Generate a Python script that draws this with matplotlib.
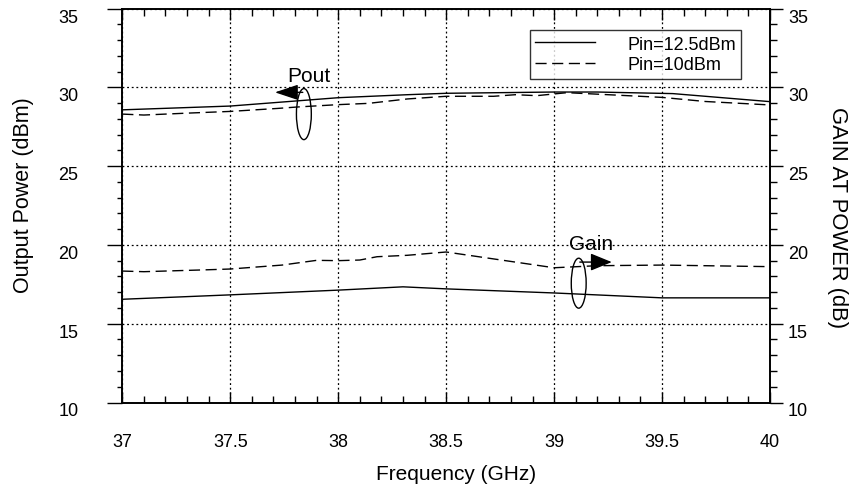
import matplotlib
matplotlib.use("Agg")
import matplotlib.pyplot as plt
from matplotlib.patches import Ellipse

# ---------------- data ----------------
pout_125_x = [37, 37.5, 38, 38.32, 38.5, 39, 39.2, 39.55, 40]
pout_125_y = [28.57, 28.81, 29.34, 29.53, 29.62, 29.70, 29.70, 29.60, 29.09]

pout_10_x = [37, 37.1, 37.3, 37.5, 37.72, 37.81, 38, 38.14, 38.32, 38.5, 38.72, 38.82,
             38.92, 39.06, 39.5, 39.7, 40]
pout_10_y = [28.30, 28.24, 28.36, 28.47, 28.66, 28.75, 28.90, 28.98, 29.26, 29.43, 29.43,
             29.53, 29.47, 29.66, 29.36, 29.10, 28.88]

gain_125_x = [37, 37.5, 38, 38.3, 38.5, 39, 39.5, 40]
gain_125_y = [16.55, 16.83, 17.13, 17.34, 17.21, 16.95, 16.64, 16.64]

gain_10_x = [37, 37.1, 37.39, 37.5, 37.74, 37.9, 38, 38.1, 38.18, 38.32, 38.5, 39, 39.2,
             39.5, 40]
gain_10_y = [18.34, 18.30, 18.42, 18.47, 18.72, 19.02, 19.00, 19.04, 19.25, 19.34, 19.55,
             18.55, 18.68, 18.72, 18.62]

x_ticks = [37, 37.5, 38, 38.5, 39, 39.5, 40]
x_tick_labels = ["37", "37.5", "38", "38.5", "39", "39.5", "40"]
y_ticks = [10, 15, 20, 25, 30, 35]
y_tick_labels = ["10", "15", "20", "25", "30", "35"]

series_labels = ["Pin=12.5dBm", "Pin=10dBm"]
x_label = "Frequency (GHz)"
y_label_left = "Output Power (dBm)"
y_label_right = "GAIN AT POWER (dB)"

# ---------------- figure ----------------
plt.rcParams['font.family'] = ['Liberation Sans', 'DejaVu Sans']

fig = plt.figure(figsize=(8.51, 4.89), dpi=100)
W, H = 851, 489
left, right, top, bottom = 122.3, 770, 9.5, 403.5
ax = fig.add_axes([left / W, 1 - bottom / H, (right - left) / W, (bottom - top) / H])

ax.set_xlim(37, 40)
ax.set_ylim(10, 35)

lw = 1.0
dash = (0, (8, 4))
l1, = ax.plot(pout_125_x, pout_125_y, color='black', lw=lw, label=series_labels[0])
l2, = ax.plot(pout_10_x, pout_10_y, color='black', lw=lw, ls=dash, label=series_labels[1])
ax.plot(gain_125_x, gain_125_y, color='black', lw=lw)
ax.plot(gain_10_x, gain_10_y, color='black', lw=lw, ls=dash)

# grid
ax.grid(True, which='major', color='black', lw=0.9, ls=(0, (1.5, 2.2)))

# ticks
ax.set_xticks(x_ticks, labels=x_tick_labels)
ax.set_xticks([37 + 0.1 * i for i in range(31)], minor=True)
ax.set_yticks(y_ticks, labels=y_tick_labels, va='top')
ax.set_yticks(list(range(10, 36)), minor=True)
ax.tick_params(axis='x', which='both', direction='in', top=True, bottom=True,
               labelsize=13, pad=22, width=1)
ax.tick_params(axis='x', which='major', length=8)
ax.tick_params(axis='x', which='minor', length=5)
ax.tick_params(axis='y', which='both', direction='out', labelsize=13, pad=21, width=1)
ax.tick_params(axis='y', which='major', length=10.5)
ax.tick_params(axis='y', which='minor', length=3.6)

ax2 = ax.twinx()
ax2.set_ylim(10, 35)
ax2.set_yticks(y_ticks, labels=y_tick_labels, va='top')
ax2.set_yticks(list(range(10, 36)), minor=True)
ax2.tick_params(axis='y', which='both', direction='out', labelsize=13, pad=4, width=1)
ax2.tick_params(axis='y', which='major', length=9)
ax2.tick_params(axis='y', which='minor', length=5)

for a in (ax, ax2):
    for s in a.spines.values():
        s.set_linewidth(1.2)

# labels
ax.set_xlabel(x_label, fontsize=15, va='center')
ax.xaxis.set_label_coords(0.516, -0.179)
ax.set_ylabel(y_label_left, fontsize=15.5, va='center')
ax.yaxis.set_label_coords(-0.152, 0.53)
ax2.set_ylabel(y_label_right, fontsize=15.8, rotation=270, va='center')
ax2.yaxis.set_label_coords(1.1045, 0.471)

# legend
leg = ax.legend(handles=[l1, l2], loc='upper left', bbox_to_anchor=(0.629, 0.945),
                fontsize=13, frameon=True, fancybox=False, handlelength=3.3,
                handletextpad=1.8, borderpad=0.3, labelspacing=0.2, borderaxespad=0)
leg.get_frame().set_edgecolor('black')
leg.get_frame().set_linewidth(1.0)

# annotations
ax.add_patch(Ellipse((37.841, 28.3), 0.069, 3.24, fill=False, ec='black', lw=1))
ax.add_patch(Ellipse((39.114, 17.57), 0.069, 3.17, fill=False, ec='black', lw=1))
ax.annotate('', xy=(37.707, 29.68), xytext=(37.836, 29.68),
            arrowprops=dict(arrowstyle='-|>,head_length=1.2,head_width=0.4',
                            mutation_scale=12, color='black', lw=1,
                            shrinkA=0, shrinkB=0))
ax.annotate('', xy=(39.267, 18.91), xytext=(39.119, 18.91),
            arrowprops=dict(arrowstyle='-|>,head_length=1.1,head_width=0.45',
                            mutation_scale=12, color='black', lw=1,
                            shrinkA=0, shrinkB=0))
ax.text(37.865, 30.75, "Pout", fontsize=15, ha='center', va='center')
ax.text(39.173, 20.06, "Gain", fontsize=15, ha='center', va='center')

fig.savefig("out.png", dpi=100)
